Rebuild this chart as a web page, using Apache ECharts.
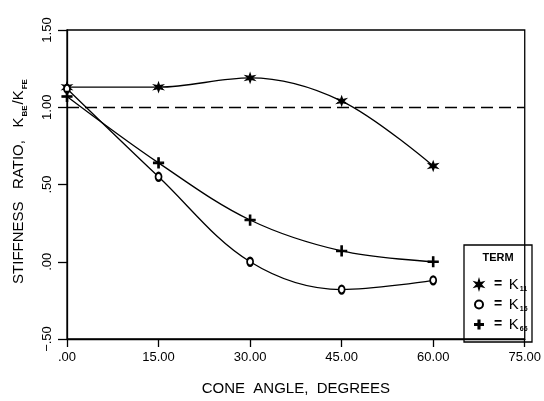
<!DOCTYPE html>
<html>
<head>
<meta charset="utf-8">
<script src="https://cdn.jsdelivr.net/npm/echarts@6/dist/echarts.min.js"></script>
<style>
  html, body { margin: 0; padding: 0; background: #fff; }
  #main { width: 544px; height: 401px; }
</style>
</head>
<body>
<div id="main"></div>
<script>
// cone angle (degrees)
var angles = [0, 15, 30, 45, 60];
// stiffness ratio per term
var k11 = [1.13, 1.13, 1.19, 1.04, 0.62];
var k16 = [1.12, 0.55, 0.00, -0.18, -0.12];
var k66 = [1.07, 0.64, 0.27, 0.07, 0.00];
var refLine = 1.0;
var termNames = ['K11', 'K16', 'K66'];
var termSubs = ['11', '16', '66'];

var starPath = 'path://M5,0L6,3.27L9.33,2.5L7,5L9.33,7.5L6,6.73L5,10L4,6.73L0.67,7.5L3,5L0.67,2.5L4,3.27Z';
var plusPath = 'path://M4.3,0H5.7V4.3H10V5.7H5.7V10H4.3V5.7H0V4.3H4.3Z';

function pairs(ys) {
    return angles.map(function (a, i) { return [a, ys[i]]; });
}

function tickText(v) {
    var s = Math.abs(v).toFixed(2);
    if (s.charAt(0) === '0') s = s.slice(1);
    return (v < 0 ? '\u2212' : '') + s;
}

var font = 'Liberation Sans, Arial, sans-serif';
var myChart = echarts.init(document.getElementById('main'));

function lineSeries(name, symbol, size, ys, extra) {
    var s = {
        type: 'line',
        name: name,
        smooth: 0.35,
        symbol: symbol,
        symbolSize: size,
        showSymbol: true,
        lineStyle: {color: '#000', width: 1.3},
        itemStyle: {color: '#000', borderColor: '#000', borderWidth: 1.2},
        emphasis: {disabled: true},
        animation: false,
        data: pairs(ys)
    };
    if (extra) {
        for (var k in extra) s[k] = extra[k];
    }
    return s;
}

var option = {
    backgroundColor: '#fff',
    textStyle: {fontFamily: font},
    grid: {
        left: 67, right: 12, top: 30, bottom: 60,
        show: true, borderColor: '#000', borderWidth: 1.3
    },
    xAxis: {
        type: 'value',
        min: 0, max: 75, interval: 15,
        name: 'CONE  ANGLE,  DEGREES',
        nameLocation: 'middle',
        nameGap: 42,
        nameTextStyle: {color: '#000', fontSize: 15, fontFamily: font},
        axisLine: {onZero: false, lineStyle: {color: '#000', width: 1.3}},
        axisTick: {show: true, length: 8, lineStyle: {color: '#000', width: 1.3}},
        axisLabel: {color: '#000', fontSize: 13, margin: 12, fontFamily: font, formatter: tickText},
        splitLine: {show: false}
    },
    yAxis: {
        type: 'value',
        min: -0.5, max: 1.5, interval: 0.5,
        axisLine: {show: true, onZero: false, lineStyle: {color: '#000', width: 1.3}},
        axisTick: {show: true, length: 9, lineStyle: {color: '#000', width: 1.3}},
        axisLabel: {color: '#000', fontSize: 13, rotate: 90, margin: 13, fontFamily: font, formatter: tickText},
        splitLine: {show: false}
    },
    legend: {
        orient: 'vertical',
        left: 469,
        top: 272,
        itemGap: 4,
        itemWidth: 8,
        itemHeight: 8,
        selectedMode: false,
        data: [
            {name: termNames[0], icon: starPath},
            {name: termNames[1], icon: 'emptyCircle', itemStyle: {color: '#000', borderColor: '#000', borderWidth: 1.3}},
            {name: termNames[2], icon: plusPath}
        ],
        formatter: function (name) {
            var i = termNames.indexOf(name);
            return '{eq|=}  {k|K}{s|' + termSubs[i] + '}';
        },
        textStyle: {
            color: '#000',
            fontFamily: font,
            rich: {
                eq: {fontSize: 14, fontWeight: 'bold', color: '#000', padding: [0, 0, 0, 6]},
                k: {fontSize: 15, color: '#000'},
                s: {fontSize: 7, fontWeight: 'bold', color: '#000', padding: [10, 0, 0, 1]}
            }
        }
    },
    graphic: [
        {
            type: 'rect',
            shape: {x: 464, y: 245, width: 68, height: 97},
            style: {fill: 'transparent', stroke: '#000', lineWidth: 1.3},
            silent: true
        },
        {
            type: 'text',
            x: 498, y: 258,
            style: {
                text: 'TERM', fill: '#000', font: 'bold 11px ' + font,
                align: 'center', verticalAlign: 'middle'
            },
            silent: true
        },
        {
            type: 'text',
            x: 19, y: 181,
            rotation: Math.PI / 2,
            style: {
                text: '{m|STIFFNESS   RATIO,   K}{s|BE}{m|/K}{s|FE}',
                fill: '#000',
                align: 'center',
                verticalAlign: 'middle',
                rich: {
                    m: {fontSize: 15, fontFamily: font, fill: '#000'},
                    s: {fontSize: 8, fontWeight: 'bold', fontFamily: font, fill: '#000', padding: [11, 1, 0, 1]}
                }
            },
            silent: true
        }
    ],
    series: [
        lineSeries(termNames[0], starPath, 9, k11, {
            markLine: {
                silent: true,
                symbol: ['none', 'none'],
                label: {show: false},
                lineStyle: {color: '#000', width: 1.3, type: [12, 6]},
                data: [{yAxis: refLine}]
            }
        }),
        lineSeries(termNames[1], 'emptyCircle', [6, 8], k16),
        lineSeries(termNames[2], plusPath, 10, k66)
    ]
};

myChart.setOption(option);
</script>
</body>
</html>
